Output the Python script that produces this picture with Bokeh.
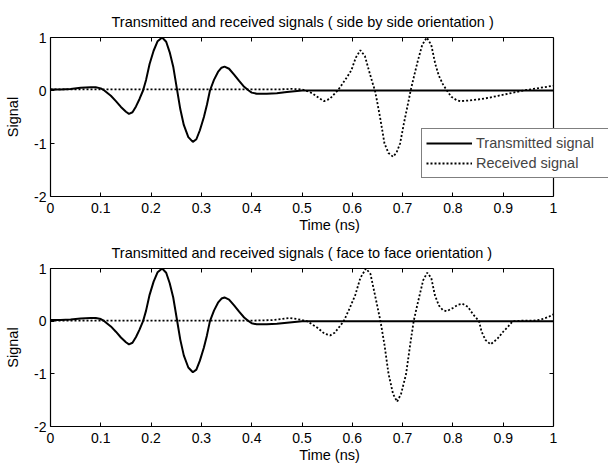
from bokeh.plotting import figure
from bokeh.models import (Range1d, LinearAxis, FixedTicker, Legend, LegendItem,
                          CustomJSTickFormatter)
from bokeh.layouts import column
from bokeh.embed import file_html
from bokeh.resources import INLINE

# Transmitted pulse (identical in both orientations)
t_tx = [0.0, 0.02, 0.04, 0.06, 0.08, 0.09, 0.1, 0.107, 0.12, 0.13, 0.14, 0.15, 0.156,
        0.163, 0.17, 0.177, 0.184, 0.19, 0.197, 0.205, 0.213, 0.222, 0.23, 0.237, 0.244,
        0.251, 0.258, 0.265, 0.274, 0.283, 0.29, 0.297, 0.305, 0.311, 0.317, 0.325, 0.333,
        0.34, 0.346, 0.355, 0.365, 0.375, 0.385, 0.394, 0.40, 0.41, 0.43, 0.45, 0.47, 0.49,
        0.5, 0.6, 0.8, 1.0]
v_tx = [0.02, 0.02, 0.03, 0.05, 0.06, 0.06, 0.04, 0.0, -0.1, -0.2, -0.31, -0.40, -0.44,
        -0.41, -0.30, -0.16, 0.0, 0.2, 0.5, 0.75, 0.93, 1.0, 0.92, 0.72, 0.45,
        0.05, -0.35, -0.65, -0.88, -0.97, -0.92, -0.75, -0.5, -0.27, 0.0, 0.2, 0.35,
        0.43, 0.45, 0.41, 0.30, 0.18, 0.07, 0.0, -0.04, -0.06, -0.06, -0.05, -0.03, -0.01,
        0.0, 0.0, 0.0, 0.0]

# Received signal, side by side orientation
t_rx_side = [0.0, 0.1, 0.2, 0.3, 0.4, 0.45, 0.48, 0.50, 0.51, 0.52, 0.535, 0.544, 0.555,
             0.563, 0.571, 0.58, 0.59, 0.598, 0.607, 0.616, 0.625, 0.633, 0.64, 0.645,
             0.649, 0.656, 0.664, 0.672, 0.681, 0.688, 0.695, 0.703, 0.712, 0.716, 0.723,
             0.73, 0.739, 0.748, 0.757, 0.765, 0.772, 0.78, 0.788, 0.797, 0.807, 0.815,
             0.83, 0.85, 0.87, 0.89, 0.91, 0.93, 0.94, 0.96, 0.98, 1.0]
v_rx_side = [0.02, 0.02, 0.02, 0.02, 0.02, 0.02, 0.03, 0.02, -0.01, -0.05, -0.15, -0.20, -0.16,
             -0.08, 0.0, 0.12, 0.26, 0.38, 0.62, 0.76, 0.65, 0.38, 0.15, 0.0,
             -0.19, -0.55, -1.0, -1.18, -1.25, -1.17, -1.0, -0.6, -0.19, 0.0, 0.28,
             0.55, 0.86, 1.0, 0.86, 0.5, 0.28, 0.12, 0.0, -0.12, -0.18, -0.20,
             -0.19, -0.17, -0.14, -0.10, -0.06, -0.02, 0.0, 0.03, 0.06, 0.09]

# Received signal, face to face orientation
t_rx_face = [0.0, 0.1, 0.2, 0.3, 0.4, 0.44, 0.46, 0.475, 0.49, 0.51, 0.53, 0.545, 0.556,
             0.565, 0.575, 0.583, 0.595, 0.606, 0.616, 0.627, 0.636, 0.645, 0.656, 0.664,
             0.672, 0.681, 0.689, 0.697, 0.707, 0.715, 0.722, 0.729, 0.734, 0.741, 0.749,
             0.757, 0.764, 0.772, 0.78, 0.788, 0.80, 0.81, 0.819, 0.83, 0.84, 0.852, 0.857,
             0.865, 0.875, 0.888, 0.90, 0.91, 0.919, 0.94, 0.96, 0.975, 0.99, 1.0]
v_rx_face = [0.01, 0.01, 0.01, 0.01, 0.01, 0.02, 0.04, 0.06, 0.04, 0.0, -0.12, -0.24, -0.27,
             -0.22, -0.10, 0.0, 0.25, 0.5, 0.82, 1.0, 0.9, 0.5, 0.0, -0.45,
             -1.0, -1.38, -1.53, -1.38, -1.0, -0.45, 0.0, 0.3, 0.5, 0.78, 0.92,
             0.82, 0.5, 0.3, 0.21, 0.19, 0.25, 0.31, 0.33, 0.27, 0.13, 0.0, -0.2,
             -0.36, -0.44, -0.34, -0.2, -0.1, 0.0, 0.01, 0.01, 0.03, 0.08, 0.13]

x_ticks = [0.0, 0.1, 0.2, 0.3, 0.4, 0.5, 0.6, 0.7, 0.8, 0.9, 1.0]
x_tick_labels = ["0", "0.1", "0.2", "0.3", "0.4", "0.5", "0.6", "0.7", "0.8", "0.9", "1"]
y_ticks = [-2, -1, 0, 1]
y_tick_labels = ["-2", "-1", "0", "1"]

titles = ["Transmitted and received signals ( side by side orientation )",
          "Transmitted and received signals ( face to face orientation )"]
legend_labels = ["Transmitted signal", "Received signal"]

FONT = "Liberation Sans"
FS_TICK = "14px"
FS_TEXT = "14.5px"
# the frame runs past t = 1 so the legend can overhang the right edge of the box
X_END = 558 / 503


def style_axis(ax, ticks, labels, show_labels):
    ax.ticker = FixedTicker(ticks=ticks)
    ax.minor_tick_in = 0
    ax.minor_tick_out = 0
    ax.axis_line_color = "black"
    ax.axis_line_width = 1.2
    ax.major_tick_line_color = "black"
    ax.major_tick_line_width = 1
    if show_labels:
        ax.major_label_overrides = {t: l for t, l in zip(ticks, labels)}
        ax.major_label_text_font = FONT
        ax.major_label_text_font_size = FS_TICK
        ax.major_label_text_color = "black"
        ax.major_label_standoff = 4
    else:
        # box edges carry ticks only
        ax.formatter = CustomJSTickFormatter(code="return ''")
        ax.major_label_text_font_size = "1px"
        ax.major_label_standoff = 0
    ax.axis_label_text_font = FONT
    ax.axis_label_text_font_size = FS_TEXT
    ax.axis_label_text_font_style = "normal"
    ax.axis_label_text_color = "black"


def make_panel(title, t_rx, v_rx, height, top, bottom, with_legend):
    p = figure(width=608, height=height, x_range=Range1d(0, X_END), y_range=Range1d(-2, 1),
               output_backend="svg", toolbar_location=None,
               min_border_left=50, min_border_right=0,
               min_border_top=top, min_border_bottom=bottom, title=title)
    p.title.align = "left"
    p.title.offset = 61
    p.title.text_font = FONT
    p.title.text_font_size = FS_TEXT
    p.title.text_font_style = "normal"
    p.title.text_color = "black"
    p.title.standoff = 15
    p.grid.visible = False
    p.outline_line_color = None

    rx = p.line(t_rx, v_rx, line_width=1.8, color="black", line_dash="2 2")
    tx = p.line(t_tx, v_tx, line_width=2, color="black")

    xa = p.xaxis[0]
    style_axis(xa, x_ticks, x_tick_labels, True)
    xa.bounds = (0, 1)
    xa.major_tick_in = 4
    xa.major_tick_out = 0
    xa.major_label_standoff = 6
    xa.axis_label = "Time (ns)"
    xa.axis_label_standoff = 1

    ya = p.yaxis[0]
    style_axis(ya, y_ticks, y_tick_labels, True)
    ya.major_tick_in = 4
    ya.major_tick_out = 0
    ya.axis_label = "Signal"
    ya.axis_label_standoff = 10

    # top edge of the box
    top_ax = LinearAxis(bounds=(0, 1))
    style_axis(top_ax, x_ticks, x_tick_labels, False)
    top_ax.major_tick_in = 4
    top_ax.major_tick_out = 0
    p.add_layout(top_ax, "above")

    # right edge of the box, pinned at t = 1 with ticks pointing into the box
    right_ax = LinearAxis(fixed_location=1)
    style_axis(right_ax, y_ticks, y_tick_labels, False)
    right_ax.major_tick_in = 0
    right_ax.major_tick_out = 4
    p.add_layout(right_ax, "left")

    if with_legend:
        legend = Legend(items=[LegendItem(label=legend_labels[0], renderers=[tx]),
                               LegendItem(label=legend_labels[1], renderers=[rx])],
                        location=(371, 18))
        legend.border_line_color = "black"
        legend.border_line_width = 1
        legend.background_fill_color = "white"
        legend.background_fill_alpha = 1
        legend.label_text_font = FONT
        legend.label_text_font_size = FS_TEXT
        legend.glyph_width = 46
        legend.glyph_height = 20
        legend.label_height = 20
        legend.label_standoff = 4
        legend.label_width = 128
        legend.spacing = 0
        legend.padding = 4
        p.add_layout(legend)
    return p


p1 = make_panel(titles[0], t_rx_side, v_rx_side, 235, 37, 39, True)
p2 = make_panel(titles[1], t_rx_face, v_rx_face, 231, 32, 40, False)

layout = column(p1, p2, spacing=0)
open("out.html", "w").write(file_html(layout, INLINE))
